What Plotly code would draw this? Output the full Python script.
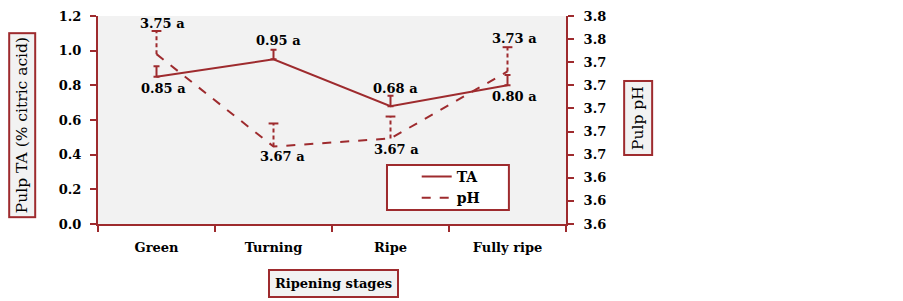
import plotly.graph_objects as go

stages = ["Green", "Turning", "Ripe", "Fully ripe"]
ta_values = [0.85, 0.95, 0.68, 0.80]
ta_errors = [0.06, 0.055, 0.06, 0.06]
ph_values = [3.747, 3.667, 3.674, 3.732]
ph_errors = [0.02, 0.02, 0.019, 0.021]
ta_letters = ["a", "a", "a", "a"]
ph_letters = ["a", "a", "a", "a"]

RED = "#9E2B2E"
FONT = "DejaVu Serif"
BG = "#F2F2F2"

fig = go.Figure()
fig.add_trace(go.Scatter(
    x=stages, y=ta_values, name="TA", mode="lines",
    line=dict(color=RED, width=2),
    error_y=dict(type="data", symmetric=False, array=ta_errors,
                 arrayminus=[0] * 4, color=RED, thickness=2, width=3),
    yaxis="y",
))
fig.add_trace(go.Scatter(
    x=stages, y=ph_values, name="pH", mode="lines",
    line=dict(color=RED, width=2, dash="dash"),
    yaxis="y2",
))
# dashed error stems for pH
ex, ey = [], []
for s, v, e in zip(stages, ph_values, ph_errors):
    ex += [s, s, None]
    ey += [v, v + e, None]
fig.add_trace(go.Scatter(
    x=ex, y=ey, mode="lines", showlegend=False, hoverinfo="skip",
    line=dict(color=RED, width=2, dash="4px,3px"), yaxis="y2",
))
fig.add_trace(go.Scatter(
    x=stages, y=[v + e for v, e in zip(ph_values, ph_errors)],
    mode="markers", showlegend=False, hoverinfo="skip",
    marker=dict(symbol="line-ew-open", size=7, color=RED, line=dict(color=RED, width=2)),
    yaxis="y2",
))

# data labels
ta_shift = [(7, -12), (5, 19), (5, 18), (7, -11)]
ph_shift = [(6, 31), (9, -10), (6, -11), (7, 33)]
lab_font = dict(family=FONT, size=13, color="black", weight="bold")
ann = []
for s, v, l, (dx, dy) in zip(stages, ta_values, ta_letters, ta_shift):
    ann.append(dict(x=s, y=v, xref="x", yref="y", text=f"{v:.2f} {l}",
                    showarrow=False, xshift=dx, yshift=dy, font=lab_font))
for s, v, l, (dx, dy) in zip(stages, ph_values, ph_letters, ph_shift):
    ann.append(dict(x=s, y=v, xref="x", yref="y2", text=f"{v:.2f} {l}",
                    showarrow=False, xshift=dx, yshift=dy, font=lab_font))

box = dict(showarrow=False, bordercolor=RED, borderwidth=2, borderpad=3,
           bgcolor=BG, xref="paper", yref="paper",
           xanchor="center", yanchor="middle")
ann.append(dict(box, x=-0.162, y=0.476, text="Pulp TA (% citric acid)", textangle=-90,
                font=dict(family=FONT, size=15.5, color="black")))
ann.append(dict(box, x=1.154, y=0.51, text="Pulp pH", textangle=-90, borderpad=4,
                font=dict(family=FONT, size=15.5, color="black")))
ann.append(dict(box, x=0.504, y=-0.288, text="Ripening stages", borderpad=5,
                font=dict(family=FONT, size=13, color="black", weight="bold")))

tickfont = dict(family=FONT, size=13, color="black", weight="bold")
axis_common = dict(ticks="outside", ticklen=6, tickwidth=2, tickcolor=RED,
                   showline=True, linecolor=RED, linewidth=2, showgrid=False,
                   zeroline=False, tickfont=tickfont, automargin=False)
fig.update_layout(
    width=895, height=293,
    margin=dict(l=90, r=337, t=8, b=77),
    paper_bgcolor="white", plot_bgcolor=BG,
    showlegend=True,
    legend=dict(x=0.681, y=0.303, xanchor="left", yanchor="top",
                bgcolor="rgba(0,0,0,0)", borderwidth=0,
                font=dict(family=FONT, size=14, color="black", weight="bold"),
                tracegroupgap=0, itemwidth=30),
    shapes=[dict(type="rect", xref="paper", yref="paper",
                 x0=0.6175, x1=0.878, y0=0.067, y1=0.284,
                 fillcolor="white", line=dict(color=RED, width=2), layer="above")],
    xaxis=dict(axis_common, type="category", range=[-0.5, 3.5], tickson="boundaries",
               ticklabelstandoff=10),
    yaxis=dict(axis_common, range=[0, 1.2], dtick=0.2, tick0=0, tickformat=".1f",
               ticklabelstandoff=6),
    yaxis2=dict(axis_common, range=[3.60, 3.78], dtick=0.02, tick0=3.60, tickformat=".1f",
                overlaying="y", side="right", ticklabelstandoff=7),
    annotations=ann,
)

fig.write_html("out.html")
